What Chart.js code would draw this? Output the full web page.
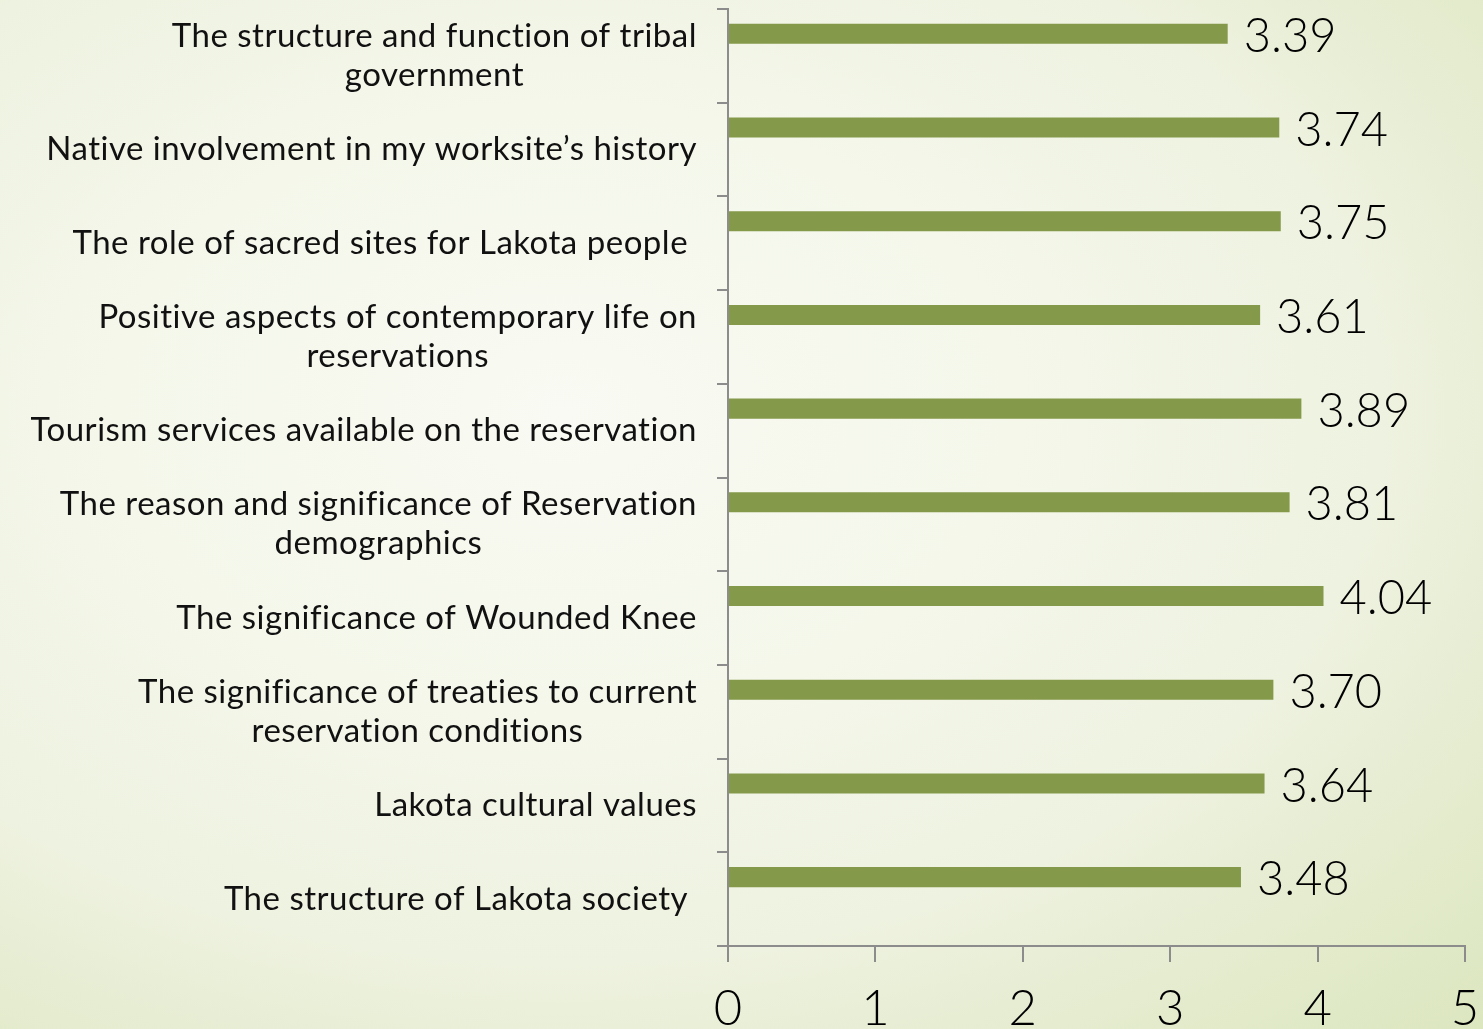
<!DOCTYPE html>
<html>
<head>
<meta charset="utf-8">
<script src="https://cdn.jsdelivr.net/npm/chart.js@4.4.1/dist/chart.umd.min.js"></script>
<style>
  html, body { margin: 0; padding: 0; }
  body {
    width: 1483px; height: 1029px; overflow: hidden;
    background: radial-gradient(farthest-corner at 38% 40%, #f9faf3 0%, #f4f7ea 35%, #eef2e0 63%, #e7edd3 76%, #e0e9c6 91%, #dce6bf 100%);
  }
  canvas { display: block; }
</style>
</head>
<body>
<canvas id="c" width="1483" height="1029"></canvas>
<script>
const categories = [
  ["The structure and function of tribal", "government"],
  "Native involvement in my worksite\u2019s history",
  "The role of sacred sites for Lakota people ",
  ["Positive aspects of contemporary life on", "reservations"],
  "Tourism services available on the reservation",
  ["The reason and significance of Reservation", "demographics"],
  "The significance of Wounded Knee",
  ["The significance of treaties to current", "reservation conditions"],
  "Lakota cultural values",
  "The structure of Lakota society "
];
const scores = [3.39, 3.74, 3.75, 3.61, 3.89, 3.81, 4.04, 3.70, 3.64, 3.48];
const emptySeries = [null, null, null, null, null, null, null, null, null, null];
const xTicks = [0, 1, 2, 3, 4, 5];

const barColor = '#84994a';
const axisColor = '#8c8c8c';
const labelFont = '400 33px Lato, "DejaVu Sans", sans-serif';
const valueFont = '300 47px Lato, "Liberation Sans", sans-serif';

const yLabelPlugin = {
  id: 'yLabels',
  afterDraw(chart) {
    const ctx = chart.ctx;
    const ys = chart.scales.y;
    ctx.save();
    ctx.font = labelFont;
    if ('letterSpacing' in ctx) ctx.letterSpacing = '0.5px';
    ctx.fillStyle = '#111';
    ctx.textAlign = 'center';
    ctx.textBaseline = 'middle';
    const lh = 39;
    const right = 697;
    chart.data.labels.forEach((lab, i) => {
      const lines = Array.isArray(lab) ? lab : [lab];
      const y = ys.getPixelForValue(i);
      let maxW = 0;
      lines.forEach(l => { maxW = Math.max(maxW, ctx.measureText(l).width); });
      const cx = right - maxW / 2;
      const y0 = y - (lines.length - 1) * lh / 2;
      lines.forEach((l, k) => ctx.fillText(l, cx, y0 + k * lh));
    });
    ctx.restore();
  }
};

const valuePlugin = {
  id: 'values',
  afterDatasetsDraw(chart) {
    const ctx = chart.ctx;
    const meta = chart.getDatasetMeta(0);
    ctx.save();
    ctx.font = valueFont;
    ctx.fillStyle = '#000';
    ctx.textAlign = 'left';
    ctx.textBaseline = 'middle';
    meta.data.forEach((bar, i) => {
      ctx.fillText(scores[i].toFixed(2), bar.x + 16, bar.y + 3);
    });
    ctx.restore();
  }
};

new Chart(document.getElementById('c'), {
  type: 'bar',
  data: {
    labels: categories,
    datasets: [
      { data: scores, backgroundColor: barColor, categoryPercentage: 0.94, barPercentage: 0.455 },
      { data: emptySeries, backgroundColor: barColor, categoryPercentage: 0.94, barPercentage: 0.455 }
    ]
  },
  options: {
    indexAxis: 'y',
    responsive: false,
    animation: false,
    layout: { padding: { top: 9, right: 18, left: 0, bottom: 0 } },
    plugins: { legend: { display: false }, tooltip: { enabled: false } },
    scales: {
      x: {
        min: 0, max: 5,
        afterBuildTicks(s) { s.ticks = xTicks.map(v => ({ value: v })); },
        ticks: { color: '#000', font: { family: 'Lato', size: 49, weight: 300 }, padding: 18, maxRotation: 0 },
        grid: { drawOnChartArea: false, tickLength: 16, color: axisColor, lineWidth: 2 },
        border: { color: axisColor, width: 2 },
        afterFit(s) { s.height = 83; s.paddingLeft = 0; s.paddingRight = 0; }
      },
      y: {
        ticks: { display: false },
        grid: { drawOnChartArea: false, tickLength: 11, color: axisColor, lineWidth: 2, offset: true },
        border: { color: axisColor, width: 2 },
        afterFit(s) { s.width = 728; s.paddingTop = 0; s.paddingBottom = 0; }
      }
    }
  },
  plugins: [yLabelPlugin, valuePlugin]
});
</script>
</body>
</html>
